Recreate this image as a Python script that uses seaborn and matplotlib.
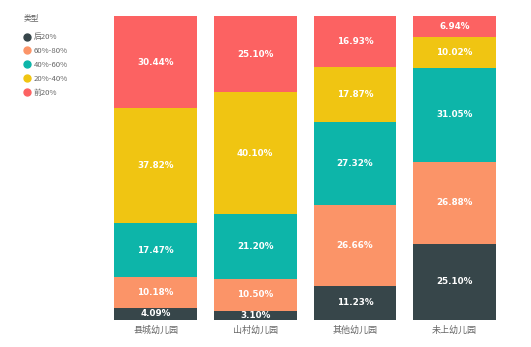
import matplotlib
matplotlib.use("Agg")
import matplotlib.pyplot as plt
from matplotlib.lines import Line2D
import seaborn as sns
import pandas as pd
import numpy as np

categories = ["县城幼儿园", "山村幼儿园", "其他幼儿园", "未上幼儿园"]
series_names = ["后20%", "60%-80%", "40%-60%", "20%-40%", "前20%"]
bottom20 = [4.09, 3.10, 11.23, 25.10]
p60_80 = [10.18, 10.50, 26.66, 26.88]
p40_60 = [17.47, 21.20, 27.32, 31.05]
p20_40 = [37.82, 40.10, 17.87, 10.02]
top20 = [30.44, 25.10, 16.93, 6.94]
colors = ["#37464a", "#fb9468", "#0db5a9", "#f0c512", "#fc6262"]

series = [bottom20, p60_80, p40_60, p20_40, top20]

sns.set_theme(style="white")
plt.rcParams["font.family"] = ["Noto Sans CJK SC", "DejaVu Sans"]

fig = plt.figure(figsize=(5.31, 3.47), dpi=100)
ax = fig.add_axes([0.199, 0.078, 0.751, 0.876])

cum = np.zeros(len(categories))
for name, vals, col in zip(series_names, series, colors):
    df = pd.DataFrame({"cat": categories, "val": vals})
    sns.barplot(data=df, x="cat", y="val", color=col, bottom=cum.copy(),
                width=0.83, ax=ax, saturation=1, linewidth=0)
    for i, v in enumerate(vals):
        ax.text(i, cum[i] + v / 2, f"{v:.2f}%", ha="center", va="center",
                color="white", fontsize=6.3, fontweight="bold",
                family=["DejaVu Sans"])
    cum += np.array(vals)

ax.set_ylim(0, 100)
ax.set_xlim(-0.5, 3.5)
ax.set_xlabel("")
ax.set_ylabel("")
ax.set_yticks([])
ax.tick_params(axis="x", length=0, labelsize=6.5, labelcolor="#666666", pad=4)
for s in ax.spines.values():
    s.set_visible(False)

handles = [Line2D([0], [0], marker="o", linestyle="", markersize=5,
                  markerfacecolor=c, markeredgecolor=c) for c in colors]
leg = fig.legend(handles, series_names, title="类型", loc="upper left",
                 bbox_to_anchor=(0.038, 0.968), frameon=False, fontsize=5.6,
                 title_fontsize=5.6, handletextpad=0.3, labelspacing=0.75,
                 handlelength=1.0, borderaxespad=0)
leg._legend_box.sep = 8
for t in leg.get_texts():
    t.set_color("#666666")
leg.get_title().set_color("#666666")
leg._legend_box.align = "left"

fig.savefig("out.png", dpi=100)
